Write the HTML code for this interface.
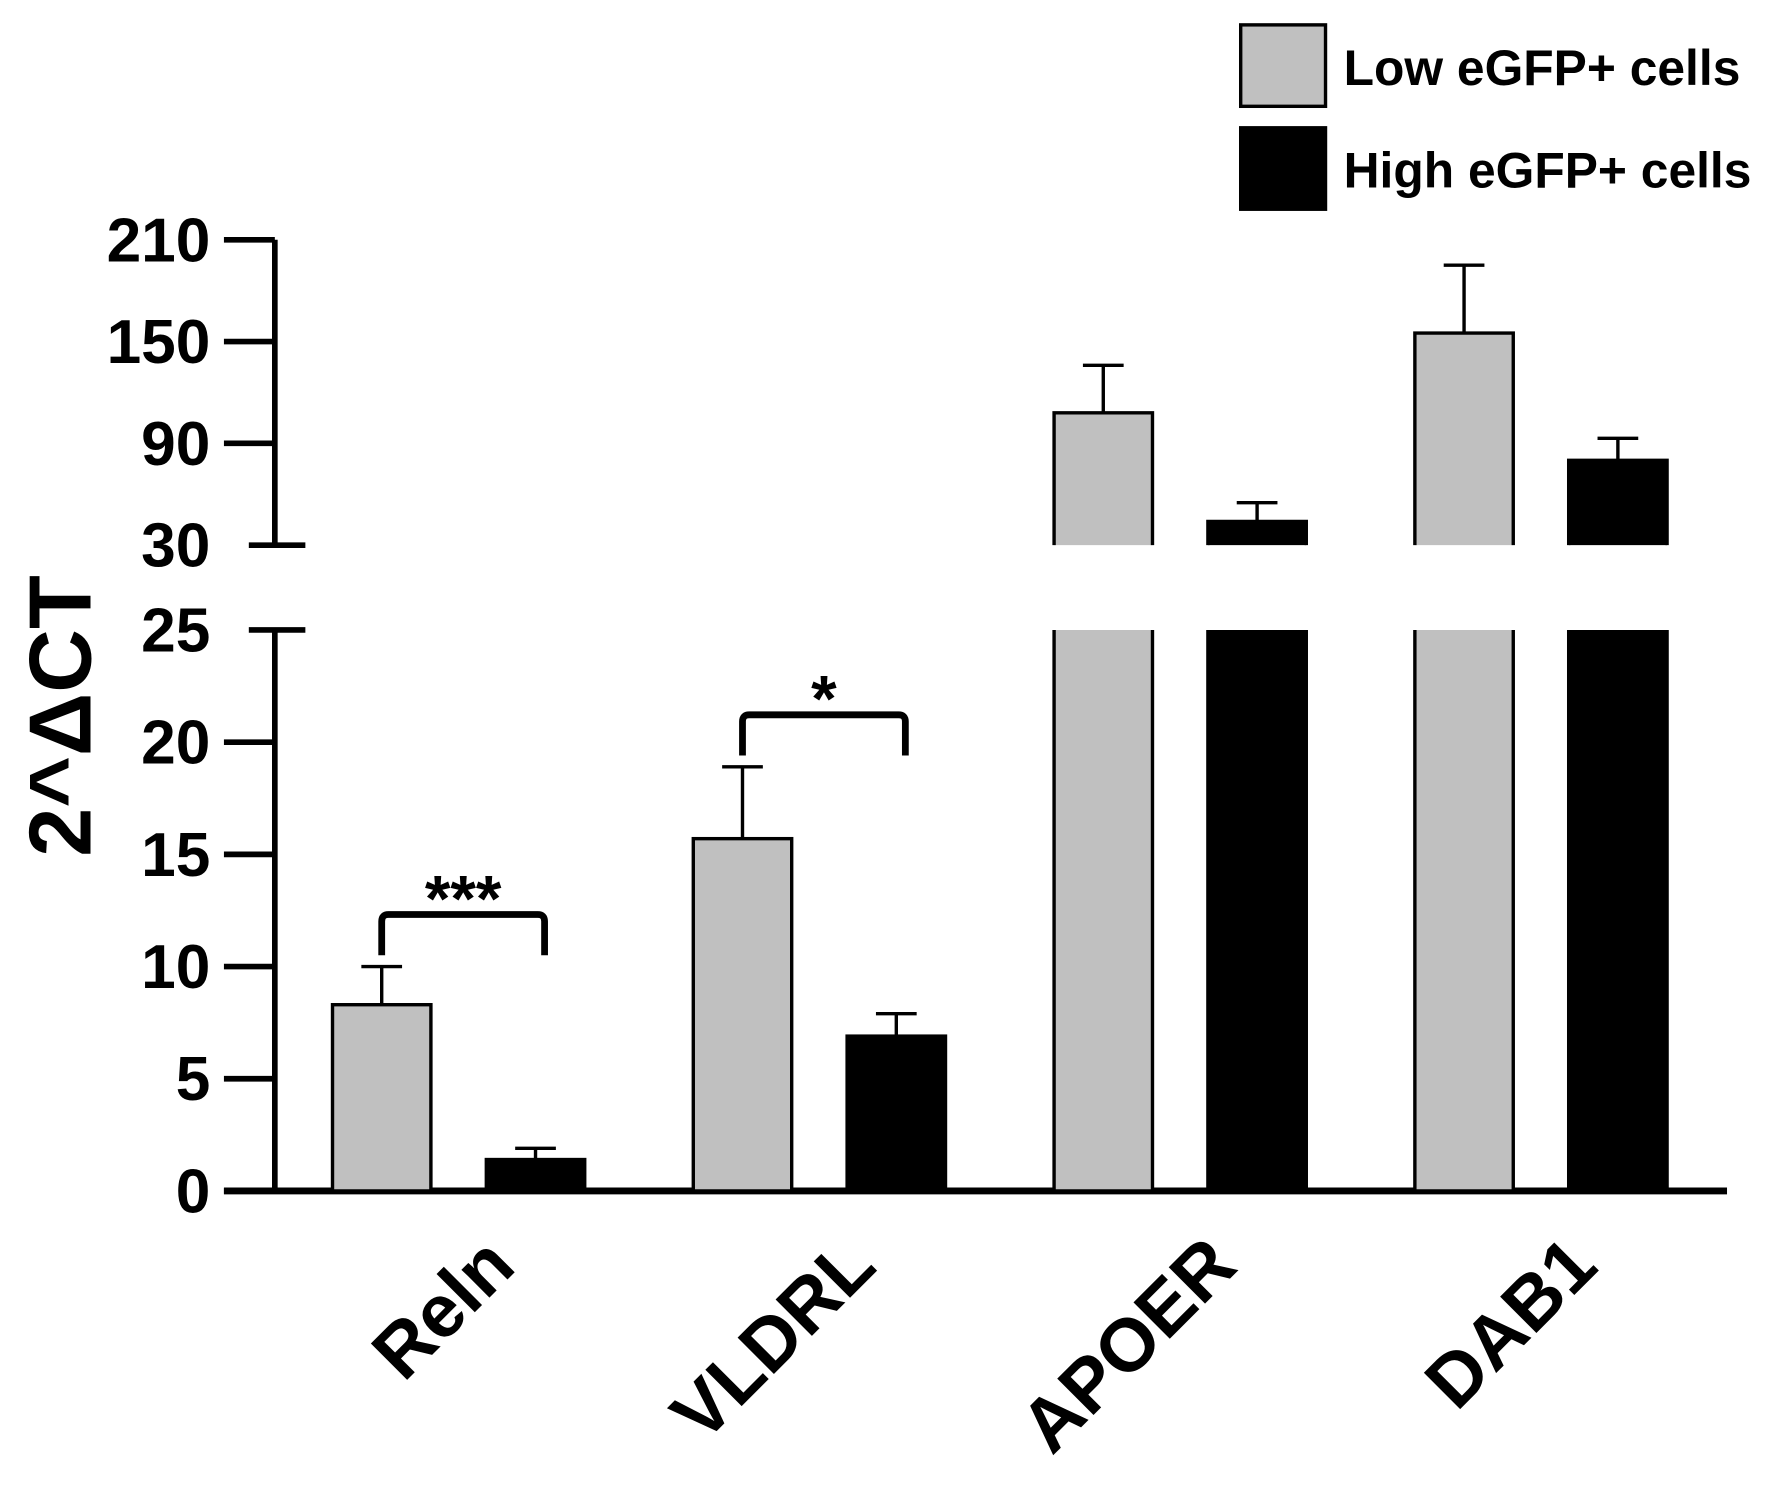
<!DOCTYPE html>
<html><head><meta charset="utf-8"><style>html,body{margin:0;padding:0;background:#fff}svg{display:block}text{font-family:"Liberation Sans",Arial,sans-serif;font-weight:bold}</style></head>
<body>
<svg id="chart" width="1770" height="1497" viewBox="0 0 1565 1323.6" preserveAspectRatio="none" xmlns="http://www.w3.org/2000/svg">
<g id="g"></g>
</svg>
<script>
const categories = ["Reln","VLDRL","APOER","DAB1"];
const lowValues = [8.3, 15.7, 108, 155];
const lowErrors = [10.0, 18.9, 136, 195];
const highValues = [1.4, 6.9, 44, 80];
const highErrors = [1.9, 7.9, 55, 93];
const lowerTicks = [0,5,10,15,20,25];
const upperTicks = [30,90,150,210];
const sigLabels = ["***","*","",""];

const NS="http://www.w3.org/2000/svg";
const g=document.getElementById('g');
function el(tag,attrs,parent){const e=document.createElementNS(NS,tag);for(const k in attrs)e.setAttribute(k,attrs[k]);(parent||g).appendChild(e);return e;}
const y0=1053, yLowTop=557, lowMax=25;
const yUpBot=482, yUpTop=212, upMin=30, upMax=210;
function yScale(v){
  if(v<=lowMax) return y0-(v/lowMax)*(y0-yLowTop);
  return yUpBot-(v-upMin)/(upMax-upMin)*(yUpBot-yUpTop);
}
const groupStart=294, groupStep=319, barW=87, pairGap=136;
function xLow(i){return groupStart+i*groupStep;}
function xHigh(i){return xLow(i)+pairGap;}

let e;
e=el('line',{x1:243,y1:yUpTop,x2:243,y2:yUpBot,stroke:'#000','stroke-width':5});

e=el('line',{x1:243,y1:yLowTop,x2:243,y2:y0,stroke:'#000','stroke-width':5});

e=el('line',{x1:198,y1:y0,x2:1527,y2:y0,stroke:'#000','stroke-width':6});


lowerTicks.concat(upperTicks).forEach(t=>{
  const y=yScale(t);
  const big=(t===30||t===25);
  const l=el('line',{x1:big?220:198,y1:y,x2:big?270:243,y2:y,stroke:'#000','stroke-width':5});
  
  
  const tx=el('text',{x:186,y:y+19,'text-anchor':'end','font-size':55});
  tx.textContent=t;
  
  
});

function drawBar(x,v,err,fill,name){
  const top=yScale(v);
  const errTop=yScale(err);
  const cx=x+barW/2;
  const w=el('line',{x1:cx,y1:errTop,x2:cx,y2:top,stroke:'#000','stroke-width':3});
  
  
  const c=el('line',{x1:cx-18,y1:errTop,x2:cx+18,y2:errTop,stroke:'#000','stroke-width':3});
  
  
  if(v<=lowMax){
    const r=el('rect',{x:x,y:top,width:barW,height:y0-top,fill:fill,stroke:'#000','stroke-width':3});
    
    
  } else {
    const p=el('path',{d:`M${x},${yUpBot}V${top}H${x+barW}V${yUpBot}`,fill:fill,stroke:'#000','stroke-width':3});
    
    
    const q=el('path',{d:`M${x},${yLowTop}V${y0}H${x+barW}V${yLowTop}`,fill:fill,stroke:'#000','stroke-width':3});
    
    
  }
}
categories.forEach((c,i)=>{
  drawBar(xLow(i),lowValues[i],lowErrors[i],'#c0c0c0','bar-low-'+c.toLowerCase());
  drawBar(xHigh(i),highValues[i],highErrors[i],'#000','bar-high-'+c.toLowerCase());
  const lab=el('text',{'font-size':66,'text-anchor':'end',transform:`translate(${xHigh(i)+28},${1122}) rotate(-45)`});
  lab.textContent=c;
  
  
  if(sigLabels[i]){
    const x1=xLow(i)+barW/2, x2=xHigh(i)+barW/2+8;
    const yb=yScale(Math.max(lowErrors[i],highErrors[i]))-46;
    const b=el('path',{d:`M${x1},${yb+36}V${yb+6}Q${x1},${yb} ${x1+6},${yb}H${x2-6}Q${x2},${yb} ${x2},${yb+6}V${yb+36}`,fill:'none',stroke:'#000','stroke-width':6});
    
    
    const s=el('text',{x:(x1+x2)/2,y:yb+6,'text-anchor':'middle','font-size':58,'font-weight':'normal'});
    s.textContent=sigLabels[i];
    
    
  }
});

const yt=el('text',{'font-size':78,'text-anchor':'middle',transform:'translate(80,633) rotate(-90)'});
yt.textContent='2^ΔCT';



const lg=[['Low eGFP+ cells','#c0c0c0',22],['High eGFP+ cells','#000',113]];
lg.forEach(([t,f,y],k)=>{
  const r=el('rect',{x:1097,y:y,width:75,height:72,fill:f,stroke:'#000','stroke-width':3});
  
  
  const tx=el('text',{x:1188,y:y+53,'font-size':44});
  tx.textContent=t;
  
  
});
</script>
</body></html>
